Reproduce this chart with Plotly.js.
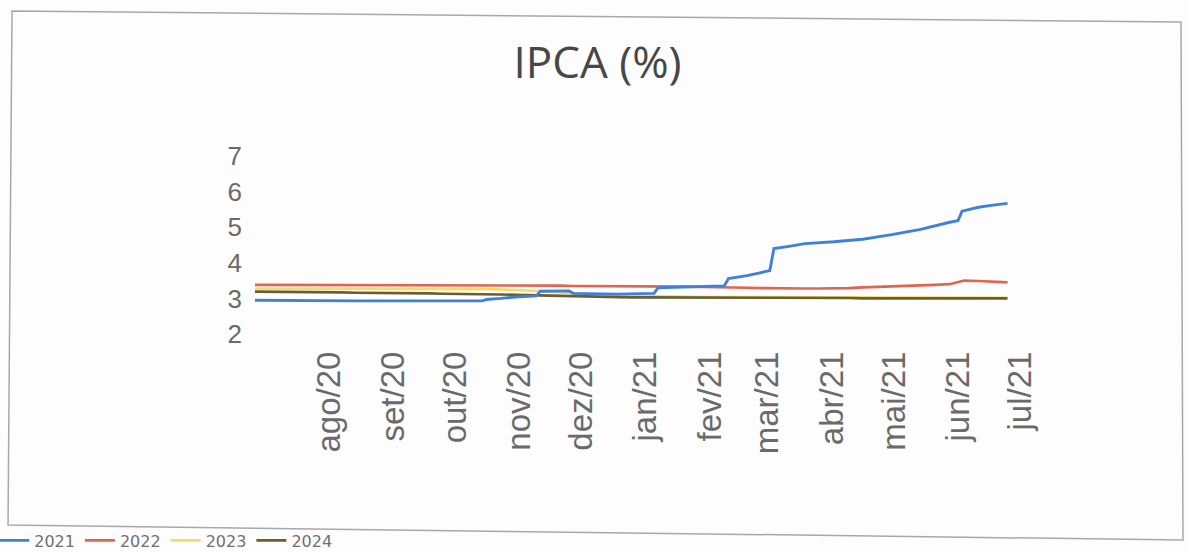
<!DOCTYPE html>
<html>
<head>
<meta charset="utf-8">
<script src="https://cdn.plot.ly/plotly-3.0.1.min.js"></script>
<style>
  html, body { margin: 0; padding: 0; background: #fdfdfd; }
  #chart { width: 1188px; height: 553px; }
</style>
</head>
<body>
<div id="chart"></div>
<script>
// Weekly observation dates (Focus survey, Fridays) for 2022/2023/2024 series
const dates = [
  '2020-06-26','2020-07-03','2020-07-10','2020-07-17','2020-07-24','2020-07-31',
  '2020-08-07','2020-08-14','2020-08-21','2020-08-28','2020-09-04','2020-09-11',
  '2020-09-18','2020-09-25','2020-10-02','2020-10-09','2020-10-16','2020-10-23',
  '2020-10-30','2020-11-06','2020-11-13','2020-11-20','2020-11-27','2020-12-04',
  '2020-12-11','2020-12-18','2020-12-25','2021-01-01','2021-01-08','2021-01-15',
  '2021-01-22','2021-01-29','2021-02-05','2021-02-12','2021-02-19','2021-02-26',
  '2021-03-05','2021-03-12','2021-03-19','2021-03-26','2021-04-02','2021-04-09',
  '2021-04-16','2021-04-23','2021-04-30','2021-05-07','2021-05-14','2021-05-21',
  '2021-05-28','2021-06-04','2021-06-11','2021-06-18','2021-06-25'
];

// 2021 series read at its own dates (including the days around its jumps)
const dates2021 = [
  '2020-06-26','2020-08-14','2020-10-14','2020-10-16','2020-10-23','2020-10-30',
  '2020-11-09','2020-11-11','2020-11-25','2020-11-27','2020-12-18','2021-01-05',
  '2021-01-07','2021-01-22','2021-02-08','2021-02-10','2021-02-19','2021-03-02',
  '2021-03-04','2021-03-12','2021-03-19','2021-04-02','2021-04-16','2021-04-30',
  '2021-05-14','2021-05-28','2021-06-01','2021-06-03','2021-06-11','2021-06-18',
  '2021-06-25'
];
const ipca2021 = [
  2.95,2.93,2.93,2.97,3.00,3.04,
  3.07,3.20,3.21,3.14,3.12,3.14,
  3.30,3.33,3.35,3.56,3.64,3.78,
  4.40,4.47,4.54,4.59,4.66,4.79,
  4.94,5.14,5.18,5.45,5.56,5.62,
  5.67
];
const ipca2022 = [
  3.38,3.38,3.38,3.38,3.38,3.38,3.38,3.38,3.37,3.37,3.37,3.37,3.37,3.37,3.37,3.36,
  3.36,3.36,3.36,3.36,3.36,3.36,3.35,3.35,3.35,3.35,3.34,3.34,3.34,3.33,3.33,3.32,
  3.32,3.31,3.30,3.29,3.28,3.28,3.28,3.28,3.28,3.29,3.31,3.32,3.33,3.35,3.37,3.38,
  3.40,3.50,3.49,3.47,3.45
];
const ipca2023 = [
  3.28,3.28,3.28,3.28,3.28,3.28,3.28,3.28,3.28,3.27,3.27,3.27,3.27,3.27,3.26,3.26,
  3.26,3.25,3.24,3.22,3.20,3.17,3.14,3.12,3.10,3.08,3.07,3.06,3.05,3.05,3.04,3.04,
  3.04,3.04,3.03,3.03,3.03,3.03,3.03,3.03,3.02,3.02,3.02,3.02,3.02,3.02,3.02,3.02,
  3.02,3.02,3.02,3.02,3.02
];
const ipca2024 = [
  3.19,3.19,3.18,3.18,3.18,3.17,3.17,3.16,3.16,3.15,3.15,3.14,3.14,3.13,3.13,3.12,
  3.11,3.11,3.10,3.09,3.08,3.07,3.05,3.04,3.04,3.03,3.03,3.03,3.03,3.02,3.02,3.02,
  3.02,3.02,3.02,3.01,3.01,3.01,3.01,3.01,3.01,3.01,3.00,3.00,3.00,3.00,3.00,3.00,
  3.00,3.00,3.00,3.00,3.00
];

const seriesNames = ['2021','2022','2023','2024'];
const seriesColors = ['#3f80dc','#e0654f','#f2dc6a','#6b5e2e'];
const seriesWidths = [2.9, 2.6, 2.6, 2.6];

const tickDates = ['2020-08-01','2020-09-01','2020-10-01','2020-11-01','2020-12-01','2021-01-01',
                   '2021-02-01','2021-03-01','2021-04-01','2021-05-01','2021-06-01','2021-07-01'];
const tickLabels = ['ago/20','set/20','out/20','nov/20','dez/20','jan/21',
                    'fev/21','mar/21','abr/21','mai/21','jun/21','jul/21'];
const yTicks = [2,3,4,5,6,7];

function mk(i, xs, ys, rank) {
  return {
    x: xs, y: ys, type: 'scatter', mode: 'lines', name: seriesNames[i],
    line: {color: seriesColors[i], width: seriesWidths[i]},
    legendrank: rank
  };
}
// drawing order: 2023, 2024, 2022, 2021 (blue on top); legend order by rank
const data = [
  mk(2, dates, ipca2023, 3),
  mk(3, dates, ipca2024, 4),
  mk(1, dates, ipca2022, 2),
  mk(0, dates2021, ipca2021, 1)
];

const layout = {
  width: 1188, height: 553,
  paper_bgcolor: '#fdfdfd', plot_bgcolor: 'rgba(0,0,0,0)',
  margin: {l: 255, r: 166, t: 156, b: 219, autoexpand: false},
  title: {
    text: 'IPCA (%)', xref: 'container', x: 0.503, xanchor: 'center',
    yref: 'container', y: 0.886, yanchor: 'middle',
    font: {family: 'Open Sans', size: 44, color: '#474747'}
  },
  xaxis: {
    type: 'date', range: ['2020-06-26', '2021-07-02'],
    tickmode: 'array', tickvals: tickDates, ticktext: tickLabels,
    tickangle: -90, ticks: '', showgrid: false, zeroline: false, showline: false,
    tickfont: {family: 'Liberation Sans', size: 33, color: '#6a6a6a'},
    ticklabelstandoff: 10, automargin: false
  },
  yaxis: {
    range: [2, 7], tickmode: 'array', tickvals: yTicks,
    ticks: '', showgrid: false, zeroline: false, showline: false,
    tickfont: {family: 'Liberation Sans', size: 26, color: '#6a6a6a'},
    ticklabelstandoff: 12, automargin: false
  },
  showlegend: true,
  legend: {
    orientation: 'h', x: -0.34, xanchor: 'left', y: -1.16, yanchor: 'middle',
    font: {family: 'DejaVu Sans', size: 16, color: '#707070'},
    bgcolor: 'rgba(0,0,0,0)', itemwidth: 30, tracegroupgap: 0
  },
  shapes: [{
    type: 'path', xref: 'paper', yref: 'paper',
    path: 'M -0.3168 1.8146 L 1.2073 1.7528 L 1.2099 -1.1573 L -0.3220 -1.0730 Z',
    line: {color: '#a8a8a8', width: 1.5}, fillcolor: 'rgba(0,0,0,0)'
  }]
};

Plotly.newPlot('chart', data, layout, {displayModeBar: false, staticPlot: true});
</script>
</body>
</html>
